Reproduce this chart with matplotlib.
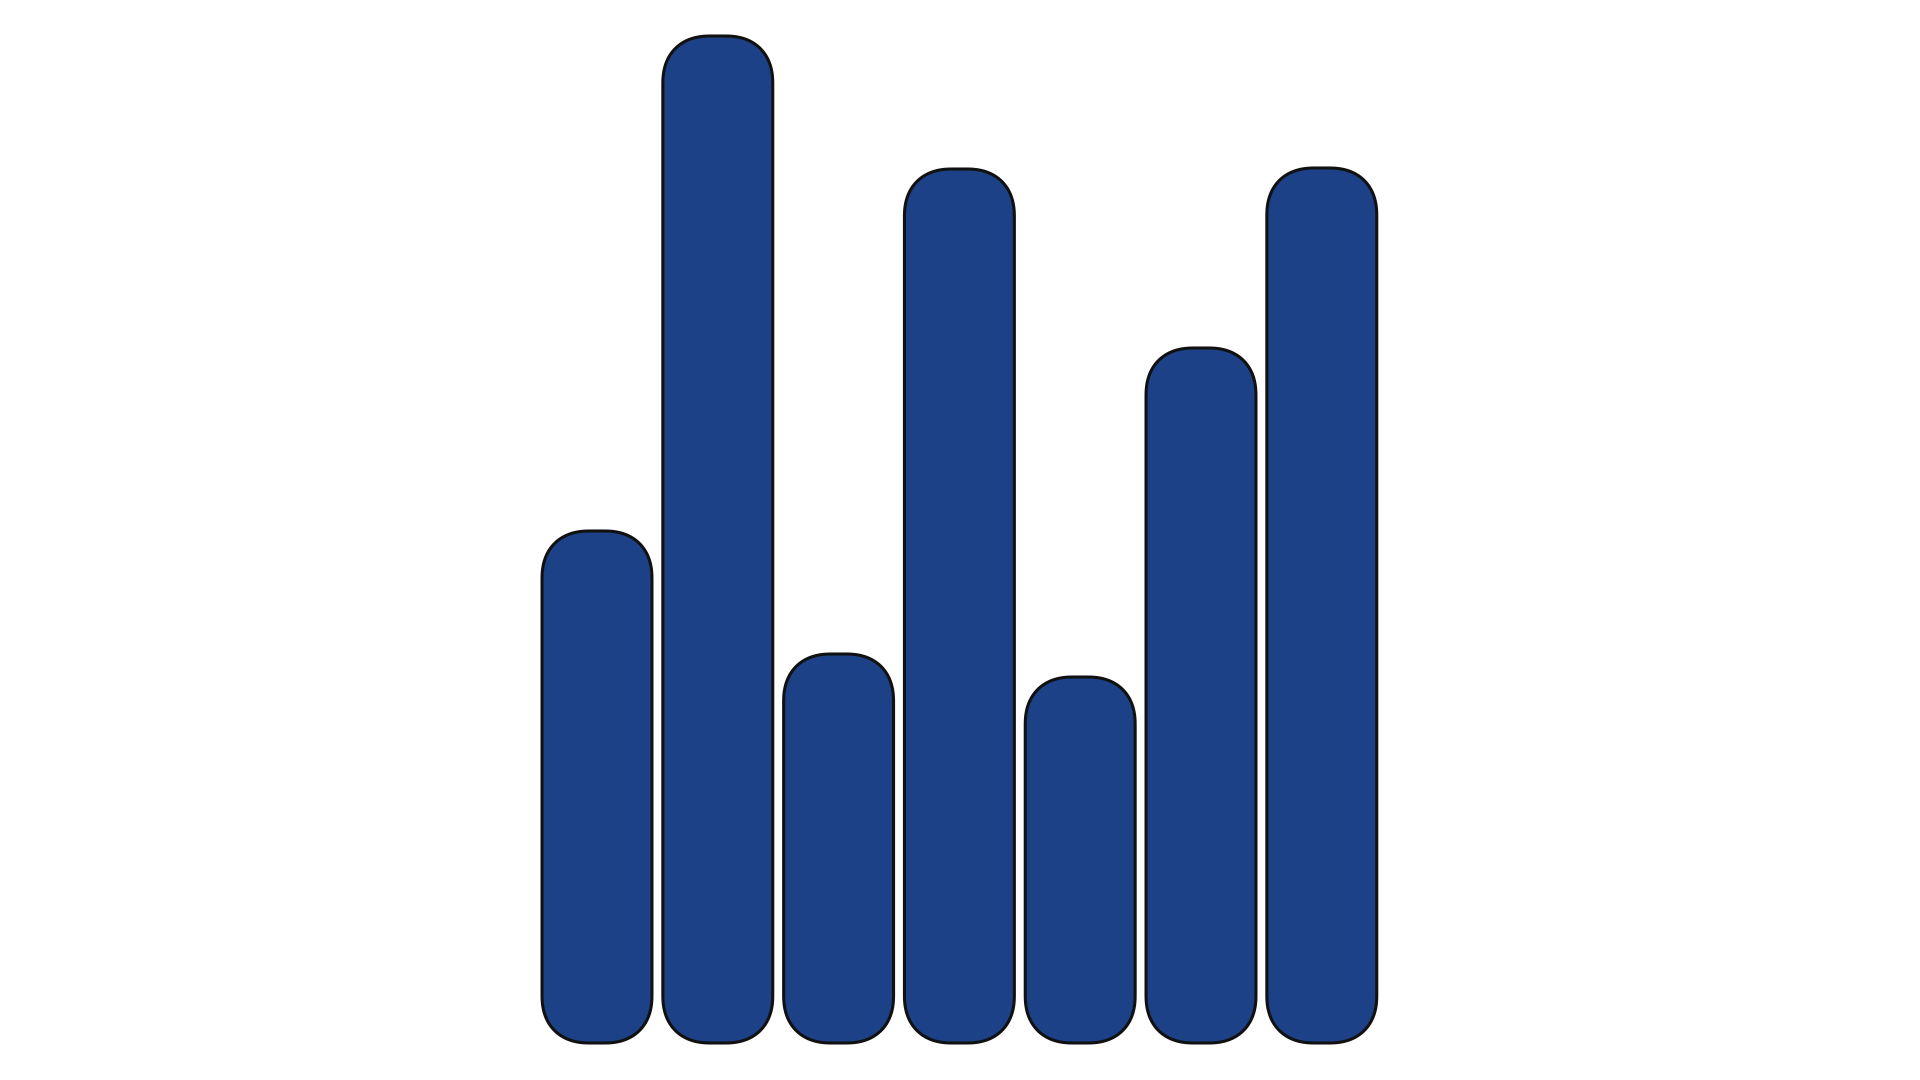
import matplotlib
matplotlib.use("Agg")
import matplotlib.pyplot as plt
import numpy as np
from matplotlib.patches import Polygon

# bar values
categories = ["A", "B", "C", "D", "E", "F", "G"]
values = [5.12, 10.07, 3.89, 8.74, 3.66, 6.95, 8.75]

fill_color = "#1c4186"
edge_color = "#111111"

fig = plt.figure(figsize=(19.2, 10.8), dpi=100)
ax = fig.add_axes([0, 0, 1, 1])
ax.set_xlim(-4.942, 10.952)
ax.set_ylim(-0.37, 10.43)
ax.axis("off")

x = list(range(len(categories)))
bars = ax.bar(x, values, width=0.91, color="none", edgecolor="none")

# pixel size of one data unit, so the corners keep their shape on screen
fig.canvas.draw()
p0 = ax.transData.transform((0, 0))
p1 = ax.transData.transform((1, 1))
px_x, px_y = p1[0] - p0[0], p1[1] - p0[1]
r_px = 48
rx, ry = r_px / px_x, r_px / px_y
n_exp = 2.3  # slightly squarer than a circle


def rounded_outline(x0, y0, w, h):
    t = np.linspace(0, np.pi / 2, 30)
    pts = []
    # bottom-right, top-right, top-left, bottom-left corners
    for cx, cy, a0 in [(x0 + w - rx, y0 + ry, -np.pi / 2),
                       (x0 + w - rx, y0 + h - ry, 0),
                       (x0 + rx, y0 + h - ry, np.pi / 2),
                       (x0 + rx, y0 + ry, np.pi)]:
        a = a0 + t
        c, s = np.cos(a), np.sin(a)
        xs = cx + rx * np.sign(c) * np.abs(c) ** (2 / n_exp)
        ys = cy + ry * np.sign(s) * np.abs(s) ** (2 / n_exp)
        pts += list(zip(xs, ys))
    return pts


for b in bars:
    pts = rounded_outline(b.get_x(), b.get_y(), b.get_width(), b.get_height())
    ax.add_patch(Polygon(pts, closed=True, facecolor=fill_color,
                         edgecolor=edge_color, linewidth=2.2))
    b.remove()

fig.savefig("out.png", dpi=100)
